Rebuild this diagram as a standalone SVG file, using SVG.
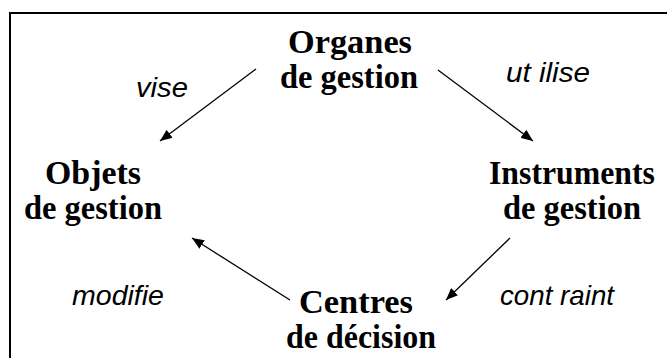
<svg xmlns="http://www.w3.org/2000/svg" width="667" height="358" viewBox="0 0 667 358">
<style>
.node{font-family:"Liberation Serif","Times New Roman",serif;font-weight:bold;font-size:34px;fill:#000}
.lbl{font-family:"Liberation Sans",Arial,sans-serif;font-style:italic;font-size:28px;fill:#000}
.edge{stroke:#000;stroke-width:1.3;fill:none;marker-end:url(#ah)}
</style>
<defs>
<marker id="ah" viewBox="0 0 12 10" refX="12" refY="5" markerWidth="12" markerHeight="10" markerUnits="userSpaceOnUse" orient="auto">
<path d="M0,0 L12,5 L0,10 z" fill="#000"/>
</marker>
</defs>
<rect width="667" height="358" fill="#fff"/>
<path d="M10,358 V13 H667" fill="none" stroke="#000" stroke-width="2"/>
<g id="connectors">
<line class="edge" x1="256" y1="69" x2="160" y2="141"/>
<line class="edge" x1="438" y1="70" x2="533" y2="141"/>
<line class="edge" x1="290" y1="300" x2="192" y2="238"/>
<line class="edge" x1="510" y1="238" x2="446" y2="300"/>
<text class="lbl" x="188" y="97" text-anchor="end" textLength="52" lengthAdjust="spacingAndGlyphs">vise</text>
<text class="lbl" x="506" y="82" textLength="84" lengthAdjust="spacingAndGlyphs">ut ilise</text>
<text class="lbl" x="72" y="305" textLength="92" lengthAdjust="spacingAndGlyphs">modifie</text>
<text class="lbl" x="500" y="305" textLength="114" lengthAdjust="spacingAndGlyphs">cont raint</text>
</g>
<g id="organes"><text class="node" x="288" y="53" textLength="124" lengthAdjust="spacingAndGlyphs">Organes</text><text class="node" x="280" y="88" textLength="138" lengthAdjust="spacingAndGlyphs">de gestion</text></g>
<g id="objets"><text class="node" x="45" y="184" textLength="96" lengthAdjust="spacingAndGlyphs">Objets</text><text class="node" x="24" y="219" textLength="138" lengthAdjust="spacingAndGlyphs">de gestion</text></g>
<g id="instruments"><text class="node" x="489" y="184" textLength="166" lengthAdjust="spacingAndGlyphs">Instruments</text><text class="node" x="503" y="219" textLength="138" lengthAdjust="spacingAndGlyphs">de gestion</text></g>
<g id="centres"><text class="node" x="299" y="313" textLength="114" lengthAdjust="spacingAndGlyphs">Centres</text><text class="node" x="286" y="348" textLength="150" lengthAdjust="spacingAndGlyphs">de décision</text></g>
</svg>
